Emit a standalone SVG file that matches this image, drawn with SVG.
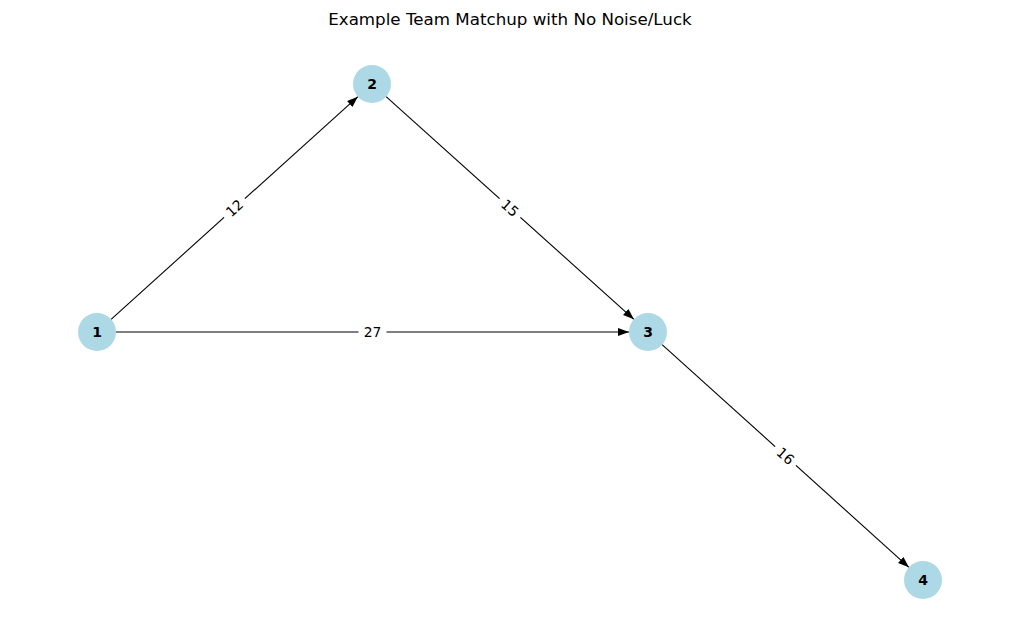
<svg xmlns="http://www.w3.org/2000/svg" width="1019" height="642" viewBox="0 0 1019 642">
<style>
.node circle{fill:#add8e6;}
.node text{font-family:"DejaVu Sans",sans-serif;font-weight:bold;font-size:14px;fill:#000;text-anchor:middle;dominant-baseline:central;}
.edge{stroke:#000;stroke-width:1.1;fill:none;marker-end:url(#arr);}
.elbl rect{fill:#fff;}
.elbl text{font-family:"DejaVu Sans",sans-serif;font-size:13.9px;fill:#000;text-anchor:middle;dominant-baseline:central;}
.title{font-family:"DejaVu Sans",sans-serif;font-size:16.7px;fill:#000;text-anchor:middle;}
</style>
<defs>
<marker id="arr" markerUnits="userSpaceOnUse" markerWidth="13" markerHeight="10" refX="11" refY="4" orient="auto">
<path d="M0,0 L11,4 L0,8 z" fill="#000"/>
</marker>
</defs>
<rect width="1019" height="642" fill="#fff"/>
<text class="title" x="510" y="25">Example Team Matchup with No Noise/Luck</text>
<g id="connectors">
<line class="edge" x1="111.1" y1="319.3" x2="357.9" y2="96.7"/>
<line class="edge" x1="116" y1="332" x2="629" y2="332"/>
<line class="edge" x1="386.1" y1="96.7" x2="633.9" y2="319.3"/>
<line class="edge" x1="662.1" y1="344.7" x2="908.9" y2="567.3"/>
<g class="elbl" transform="translate(234.5,208) rotate(-42)"><rect x="-14" y="-10" width="28" height="20"/><text x="0" y="0">12</text></g>
<g class="elbl" transform="translate(372.5,332)"><rect x="-14" y="-10" width="28" height="20"/><text x="0" y="0">27</text></g>
<g class="elbl" transform="translate(510,208) rotate(42)"><rect x="-14" y="-10" width="28" height="20"/><text x="0" y="0">15</text></g>
<g class="elbl" transform="translate(785.5,456) rotate(42)"><rect x="-14" y="-10" width="28" height="20"/><text x="0" y="0">16</text></g>
</g>
<g id="node1" class="node"><circle cx="97" cy="332" r="19"/><text x="97" y="332">1</text></g>
<g id="node2" class="node"><circle cx="372" cy="84" r="19"/><text x="372" y="84">2</text></g>
<g id="node3" class="node"><circle cx="648" cy="332" r="19"/><text x="648" y="332">3</text></g>
<g id="node4" class="node"><circle cx="923" cy="580" r="19"/><text x="923" y="580">4</text></g>
</svg>
